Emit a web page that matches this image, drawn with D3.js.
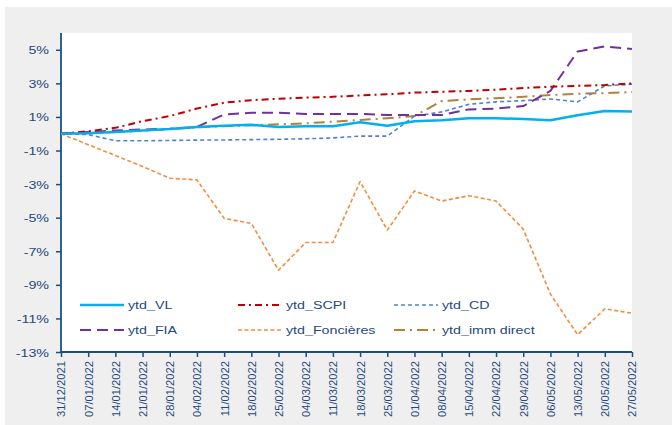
<!DOCTYPE html>
<html>
<head>
<meta charset="utf-8">
<script src="https://cdn.jsdelivr.net/npm/d3@7"></script>
<style>
  html, body { margin: 0; padding: 0; background: #ffffff; }
  svg { display: block; }
  text { font-family: "Liberation Sans", Arial, sans-serif; }
</style>
</head>
<body>
<svg id="chart" width="672" height="425"></svg>
<script>
const dates = ["31/12/2021","07/01/2022","14/01/2022","21/01/2022","28/01/2022","04/02/2022","11/02/2022","18/02/2022","25/02/2022","04/03/2022","11/03/2022","18/03/2022","25/03/2022","01/04/2022","08/04/2022","15/04/2022","22/04/2022","29/04/2022","06/05/2022","13/05/2022","20/05/2022","27/05/2022"];

const ytd_VL        = [0, 0.03, 0.10, 0.20, 0.28, 0.40, 0.48, 0.53, 0.40, 0.44, 0.44, 0.68, 0.48, 0.75, 0.80, 0.92, 0.92, 0.88, 0.80, 1.10, 1.35, 1.33];
const ytd_SCPI      = [0, 0.15, 0.35, 0.75, 1.05, 1.50, 1.85, 2.00, 2.08, 2.15, 2.20, 2.28, 2.35, 2.45, 2.50, 2.55, 2.62, 2.72, 2.80, 2.85, 2.90, 3.00];
const ytd_CD        = [0, -0.05, -0.42, -0.42, -0.40, -0.38, -0.37, -0.35, -0.33, -0.30, -0.25, -0.14, -0.14, 1.05, 1.30, 1.75, 1.90, 1.97, 2.07, 1.90, 2.85, 2.95];
const ytd_FIA       = [0, 0.10, 0.20, 0.25, 0.30, 0.40, 1.15, 1.25, 1.25, 1.18, 1.18, 1.18, 1.12, 1.12, 1.12, 1.45, 1.50, 1.65, 2.55, 4.90, 5.20, 5.05];
const ytd_Foncieres = [0, -0.65, -1.30, -1.95, -2.65, -2.75, -5.04, -5.34, -8.13, -6.48, -6.48, -2.85, -5.74, -3.41, -4.01, -3.69, -4.01, -5.68, -9.55, -11.97, -10.43, -10.69];
const ytd_imm_direct= [0, 0.05, 0.10, 0.18, 0.28, 0.38, 0.45, 0.50, 0.56, 0.62, 0.72, 0.82, 0.92, 1.05, 1.95, 2.05, 2.12, 2.20, 2.30, 2.38, 2.42, 2.48];

const seriesNames = ["ytd_VL", "ytd_SCPI", "ytd_CD", "ytd_FIA", "ytd_Foncières", "ytd_imm direct"];
const seriesValues = [ytd_VL, ytd_SCPI, ytd_CD, ytd_FIA, ytd_Foncieres, ytd_imm_direct];
const yTicks = [-13, -11, -9, -7, -5, -3, -1, 1, 3, 5];

const styles = [
  {color: "#00b0f0", width: 2.5, dash: null},
  {color: "#c00000", width: 2,   dash: "7,4,2,4"},
  {color: "#4f81d4", width: 1.6, dash: "4,3"},
  {color: "#7030a0", width: 2,   dash: "11,6"},
  {color: "#f58c3d", width: 1.6, dash: "4,2.5"},
  {color: "#b0823a", width: 2,   dash: "11,5,2,5"}
];

const svg = d3.select("#chart");
const W = 672, H = 425;
const plot = {left: 61, right: 632, top: 33, bottom: 352};
const textColor = "#1f497d";
const axisColor = "#1f4e79";
const stretch = 1.24;

// backgrounds
svg.append("rect").attr("x", 0).attr("y", 0).attr("width", W).attr("height", H).attr("fill", "#ffffff");
svg.append("rect").attr("x", 5).attr("y", 7).attr("width", W - 5).attr("height", H - 7).attr("fill", "#efefef");
svg.append("rect").attr("x", plot.left).attr("y", plot.top)
  .attr("width", plot.right - plot.left).attr("height", plot.bottom - plot.top).attr("fill", "#ffffff");

const x = d3.scalePoint().domain(dates).range([plot.left, plot.right]);
const y = d3.scaleLinear().domain([-13, 6]).range([plot.bottom, plot.top]);

// Y axis
const yAxis = d3.axisLeft(y).tickValues(yTicks).tickSize(5).tickFormat(d => d + "%");
const gy = svg.append("g").attr("transform", `translate(${plot.left},0)`).call(yAxis);
gy.select(".domain").attr("stroke", axisColor).attr("stroke-width", 1.8)
  .attr("d", `M0,${plot.top}V${plot.bottom}`);
gy.selectAll(".tick line").attr("stroke", axisColor).attr("stroke-width", 1.5);
gy.selectAll(".tick text").remove();
gy.selectAll(".tick").append("g")
  .attr("transform", `translate(-12,0) scale(${stretch},1)`)
  .append("text")
  .attr("text-anchor", "end").attr("dy", "0.35em")
  .attr("font-size", "11.5px").attr("fill", textColor)
  .text(d => d + "%");

// X axis
const xAxis = d3.axisBottom(x).tickSize(5).tickSizeOuter(0);
const gx = svg.append("g").attr("transform", `translate(0,${plot.bottom})`).call(xAxis);
gx.select(".domain").attr("stroke", axisColor).attr("stroke-width", 1.8)
  .attr("d", `M${plot.left},0H${plot.right}`);
gx.selectAll(".tick line").attr("stroke", axisColor).attr("stroke-width", 1.5);
gx.selectAll(".tick text")
  .attr("transform", "rotate(-90)")
  .attr("text-anchor", "end")
  .attr("x", -9).attr("y", 0).attr("dy", "0.35em")
  .attr("font-size", "11.2px").attr("fill", textColor)
  .attr("font-family", "Liberation Sans, Arial, sans-serif");

// lines
const line = d3.line().x((d, i) => x(dates[i])).y(d => y(d));
const drawOrder = [4, 5, 2, 3, 1, 0];
drawOrder.forEach(k => {
  const st = styles[k];
  svg.append("path")
    .datum(seriesValues[k])
    .attr("d", line)
    .attr("fill", "none")
    .attr("stroke", st.color)
    .attr("stroke-width", st.width)
    .attr("stroke-dasharray", st.dash)
    .attr("stroke-linejoin", "round");
});

// legend
const legCols = [80, 238, 394];
const legRows = [305, 330];
seriesNames.forEach((name, k) => {
  const cx = legCols[k % 3], cy = legRows[Math.floor(k / 3)];
  const st = styles[k];
  svg.append("line")
    .attr("x1", cx).attr("x2", cx + 44).attr("y1", cy).attr("y2", cy)
    .attr("stroke", st.color).attr("stroke-width", st.width)
    .attr("stroke-dasharray", st.dash);
  svg.append("g").attr("transform", `translate(${cx + 48},${cy}) scale(${stretch},1)`)
    .append("text")
    .attr("dy", "0.35em").attr("font-size", "11.5px").attr("fill", textColor)
    .text(name);
});
</script>
</body>
</html>
